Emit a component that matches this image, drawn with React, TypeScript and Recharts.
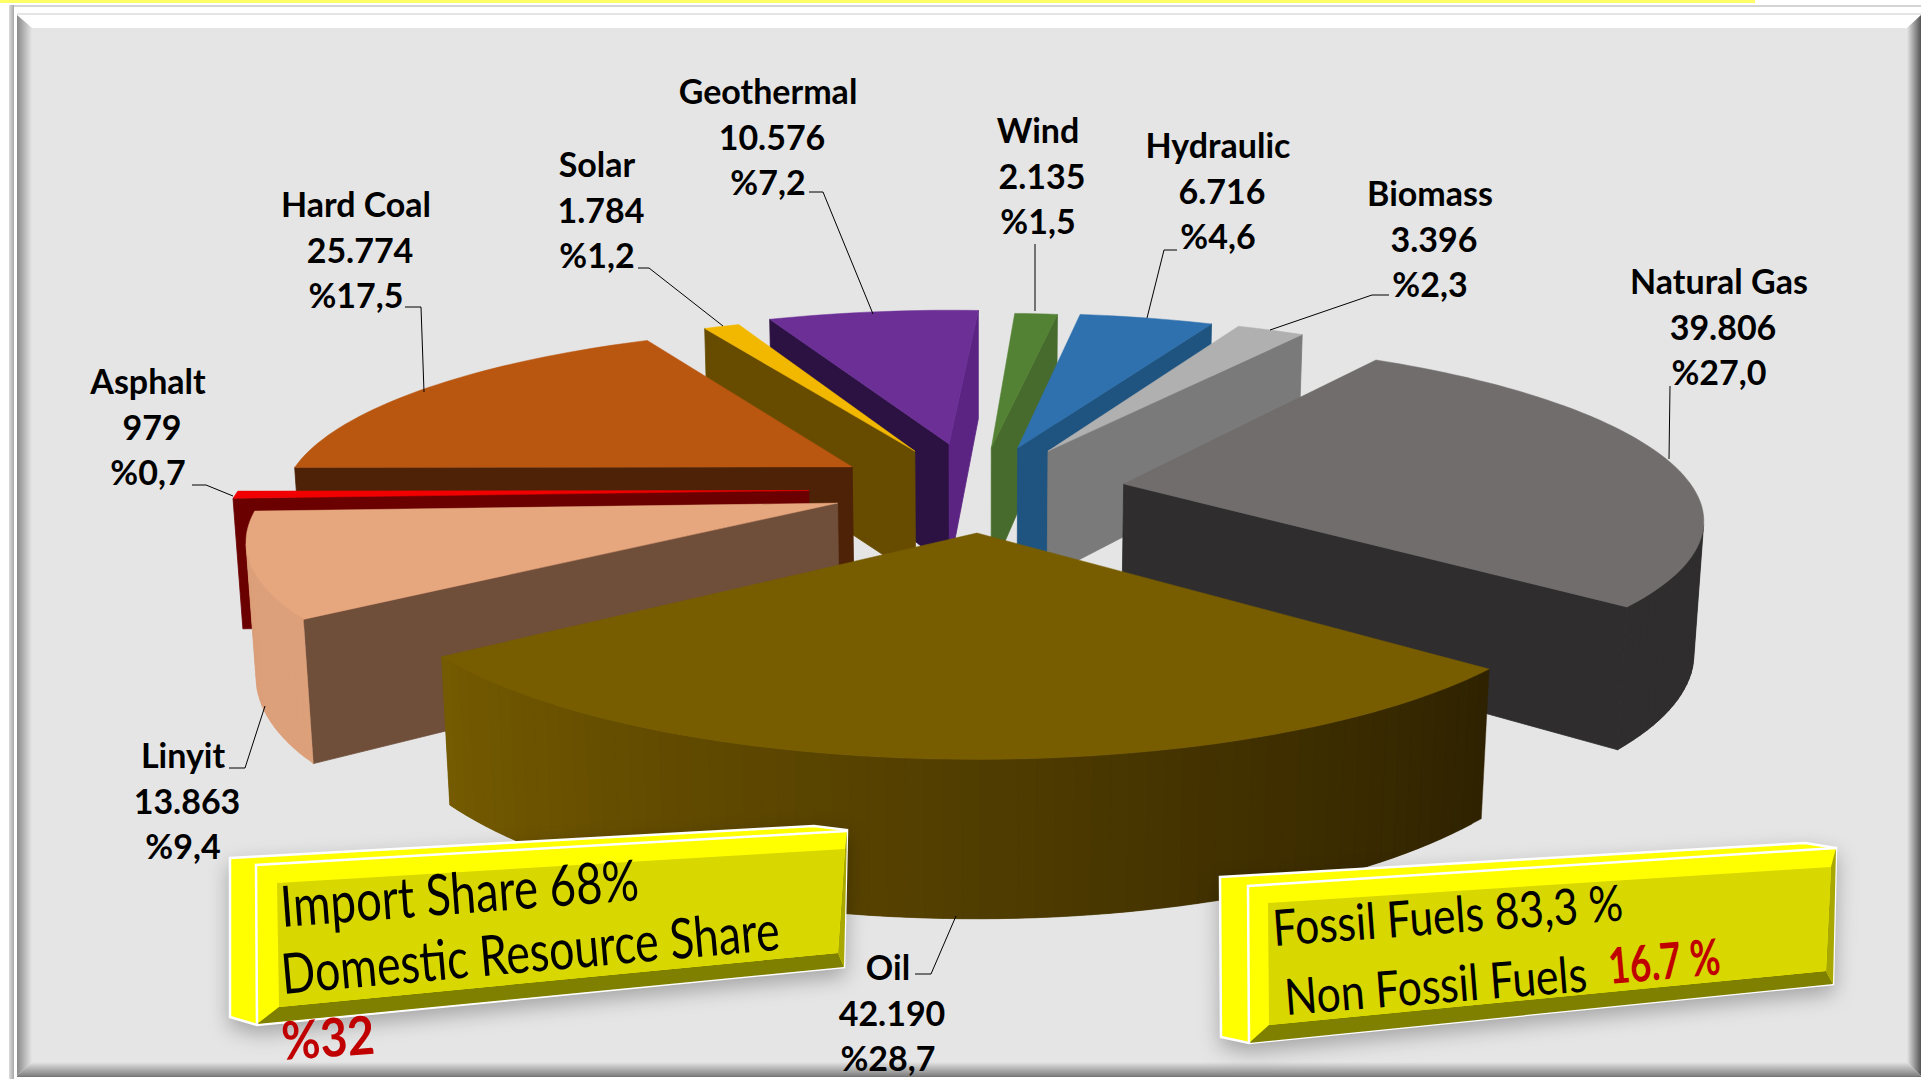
import React from 'react';
import { PieChart, Pie } from 'recharts';

const categories = ['Natural Gas', 'Oil', 'Linyit', 'Asphalt', 'Hard Coal', 'Solar', 'Geothermal', 'Wind', 'Hydraulic', 'Biomass'];
const values = [39806, 42190, 13863, 979, 25774, 1784, 10576, 2135, 6716, 3396];

// paint order, far slices first
const drawOrder = ['Geothermal', 'Wind', 'Hydraulic', 'Solar', 'Biomass', 'Hard Coal', 'Asphalt', 'Linyit', 'Natural Gas', 'Oil'];

// how far each slice is pulled out, [sideways, towards viewer]
const explode = [[147, -77], [-3, 83], [-143, -13], [-174, -55], [-133, -137], [-69, -194], [-33, -220], [12, -205], [40, -205], [72, -194]];

// top, start wall, end wall, arc at start angle, arc at end angle
const colors = [
    ['#706d6c', '#2f2d2e', '#2f2d2e', '#2f2d2e', '#2f2d2e'],
    ['#775d00', '#775d00', '#775d00', '#2f2200', '#745a00'],
    ['#e6a77e', '#6f4e3a', '#6f4e3a', '#dca07a', '#dca07a'],
    ['#f00000', '#6b0000', '#6b0000', '#6b0000', '#6b0000'],
    ['#b95610', '#4d2207', '#4d2207', '#4d2207', '#4d2207'],
    ['#f2b800', '#674c00', '#674c00', '#674c00', '#674c00'],
    ['#6b2f96', '#2c1243', '#5b2483', '#2c1243', '#2c1243'],
    ['#548235', '#476b2d', '#476b2d', '#476b2d', '#476b2d'],
    ['#2e71ae', '#1f5480', '#1f5480', '#1f5480', '#1f5480'],
    ['#b0b0b0', '#7a7a7a', '#7a7a7a', '#7a7a7a', '#7a7a7a'],
];

// label centre and leader line per slice
const labelSpots = [
    { x: 1719, y: 282, line: '1670,386 1669,459' },
    { x: 888, y: 968, line: '915,974 931,974 956,916' },
    { x: 183, y: 756, line: '229,768 245,768 265,706' },
    { x: 148, y: 382, line: '192,485 206,485 233,496' },
    { x: 356, y: 205, line: '405,307 421,307 424,392' },
    { x: 597, y: 165, line: '638,268 649,268 723,326' },
    { x: 768, y: 92, line: '809,192 823,192 873,314' },
    { x: 1038, y: 131, line: '1035,244 1035,311' },
    { x: 1218, y: 146, line: '1177,250 1164,250 1147,318' },
    { x: 1430, y: 194, line: '1389,295 1372,295 1270,330' },
];

const rows = categories.map((name, i) => ({ name, value: values[i] }));

const WIDTH = 1921;
const HEIGHT = 1079;
const SIN = 0.305;
const COS = 0.952;
const CAMERA = 3175;
const THICKNESS = 140;
const LABEL_FONT = 'Lato, "Open Sans", sans-serif';

const project = (x: number, y: number, z: number, cx: number, cy: number) => {
    const up = y * COS - z * SIN;
    const near = y * SIN + z * COS;
    const s = CAMERA / (CAMERA - near);
    return [cx + x * s, cy - up * s];
};

const toPoints = (pts: number[][]) => pts.map((p) => `${p[0].toFixed(1)},${p[1].toFixed(1)}`).join(' ');

const area = (pts: number[][]) => {
    let sum = 0;
    pts.forEach((p, i) => {
        const q = pts[(i + 1) % pts.length];
        sum += p[0] * q[1] - q[0] * p[1];
    });
    return sum;
};

const mix = (a: string, b: string, t: number) => {
    const parse = (h: string) => [1, 3, 5].map((k) => parseInt(h.slice(k, k + 2), 16));
    const ca = parse(a);
    const cb = parse(b);
    return `rgb(${ca.map((c, i) => Math.round(c + (cb[i] - c) * t)).join(',')})`;
};

const Slice3D = ({ cx, cy, outerRadius, startAngle, endAngle, index }: any) => {
    const [dx, dz] = explode[index];
    const [topColor, startWall, endWall, arcFrom, arcTo] = colors[index];
    const a0 = 90 - startAngle;
    const a1 = 90 - endAngle;

    const top = (deg: number, r: number) => {
        const t = (deg * Math.PI) / 180;
        return project(dx + r * Math.sin(t), 0, dz - r * Math.cos(t), cx, cy);
    };
    const bottom = (deg: number, r: number) => {
        const t = (deg * Math.PI) / 180;
        return project(dx + r * Math.sin(t), -THICKNESS, dz - r * Math.cos(t), cx, cy);
    };

    const steps = Math.max(2, Math.ceil((a1 - a0) / 1.5));
    const angles = Array.from({ length: steps + 1 }, (_, i) => a0 + ((a1 - a0) * i) / steps);

    const startPoly = [top(a0, 0), top(a0, outerRadius), bottom(a0, outerRadius), bottom(a0, 0)];
    const endPoly = [top(a1, 0), top(a1, outerRadius), bottom(a1, outerRadius), bottom(a1, 0)];
    const face = [top(a0, 0), ...angles.map((d) => top(d, outerRadius))];

    return (
        <g>
            {area(startPoly) < 0 && <polygon points={toPoints(startPoly)} fill={startWall} stroke={startWall} strokeWidth={0.8} />}
            {area(endPoly) > 0 && <polygon points={toPoints(endPoly)} fill={endWall} stroke={endWall} strokeWidth={0.8} />}
            {angles.slice(0, -1).map((d, i) => {
                // each quad runs on under the next one so no seams show
                const next = angles[Math.min(i + 2, steps)];
                const quad = [top(d, outerRadius), top(next, outerRadius), bottom(next, outerRadius), bottom(d, outerRadius)];
                if (area(quad) >= 0) return null;
                const c = mix(arcFrom, arcTo, i / (steps - 1));
                return <polygon key={i} points={toPoints(quad)} fill={c} stroke={c} strokeWidth={0.4} />;
            })}
            <polygon points={toPoints(face)} fill={topColor} stroke={topColor} strokeWidth={0.5} />
        </g>
    );
};

const renderLabel = ({ index, name, value, percent }: any) => {
    const spot = labelSpots[index];
    const amount = String(value).replace(/\B(?=(\d{3})+$)/g, '.');
    const share = `%${(percent * 100).toFixed(1).replace('.', ',')}`;
    const textStyle = { fontFamily: LABEL_FONT, fontWeight: 700, fontSize: 34, fill: '#000' };
    return (
        <g key={name}>
            <polyline points={spot.line} fill="none" stroke="#000" strokeWidth={1} />
            <text x={spot.x} y={spot.y + 12} textAnchor="middle" style={textStyle}>{name}</text>
            <text x={spot.x + 4} y={spot.y + 58} textAnchor="middle" style={textStyle}>{amount}</text>
            <text x={spot.x} y={spot.y + 103} textAnchor="middle" style={textStyle}>{share}</text>
        </g>
    );
};

const Frame = () => (
    <svg width={WIDTH} height={HEIGHT} style={{ position: 'absolute', left: 0, top: 0 }}>
        <defs>
            <linearGradient id="outerEdge" x1="0" x2="1" y1="0" y2="0">
                <stop offset="0" stopColor="#dcdcdc" />
                <stop offset="1" stopColor="#a8a8a8" />
            </linearGradient>
            <linearGradient id="leftEdge" x1="0" x2="1" y1="0" y2="0">
                <stop offset="0" stopColor="#8a8a8a" />
                <stop offset="1" stopColor="#e5e5e5" />
            </linearGradient>
            <linearGradient id="rightEdge" x1="0" x2="1" y1="0" y2="0">
                <stop offset="0" stopColor="#e5e5e5" />
                <stop offset="1" stopColor="#555" />
            </linearGradient>
            <linearGradient id="bottomEdge" x1="0" x2="0" y1="0" y2="1">
                <stop offset="0" stopColor="#e5e5e5" />
                <stop offset="1" stopColor="#808080" />
            </linearGradient>
        </defs>
        <rect x={0} y={0} width={1755} height={3} fill="#ffff66" />
        <rect x={9} y={5} width={1912} height={2} fill="#d4d4d4" />
        <rect x={9} y={5} width={5} height={1074} fill="url(#outerEdge)" />
        <rect x={17} y={13} width={1904} height={2} fill="#bdbdbd" />
        <rect x={17} y={13} width={1904} height={1064} fill="#e5e5e5" />
        <polygon points="17,15 1921,15 1907,28 32,28" fill="#fff" />
        <polygon points="17,15 32,28 32,1062 17,1076" fill="url(#leftEdge)" />
        <polygon points="1921,15 1907,28 1907,1062 1921,1076" fill="url(#rightEdge)" />
        <polygon points="17,1076 32,1062 1907,1062 1921,1076" fill="url(#bottomEdge)" />
        <rect x={17} y={1076} width={1904} height={1} fill="#777" />
    </svg>
);

const Bevel = ({ outer, front, inner }: { outer: number[][]; front: number[][]; inner: number[][] }) => (
    <g style={{ filter: 'drop-shadow(0px 8px 10px rgba(0,0,0,0.28))' }}>
        <polygon points={toPoints(outer)} fill="#ffff00" stroke="#fff" strokeWidth={2.5} />
        <polygon points={toPoints([front[0], front[1], inner[1], inner[0]])} fill="#ffff00" />
        <polygon points={toPoints([front[0], inner[0], inner[3], front[3]])} fill="#ffff00" />
        <polygon points={toPoints([front[3], inner[3], inner[2], front[2]])} fill="#7f7f00" />
        <polygon points={toPoints([front[1], front[2], inner[2], inner[1]])} fill="#a8a800" />
        <polygon points={toPoints(inner)} fill="#d8d800" />
        <polyline points={toPoints([front[3], front[0], front[1]])} fill="none" stroke="#fff" strokeWidth={2.5} />
    </g>
);

const Slanted = ({ x, y, angle, width, size, color = '#000', bold = false, children }: any) => (
    <text
        transform={`translate(${x} ${y}) rotate(${angle})`}
        textLength={width}
        lengthAdjust="spacingAndGlyphs"
        style={{ fontFamily: LABEL_FONT, fontSize: size, fontWeight: bold ? 700 : 400, fill: color }}
    >
        {children}
    </text>
);

const Notes = () => (
    <svg width={WIDTH} height={HEIGHT} style={{ position: 'absolute', left: 0, top: 0 }}>
        <Bevel
            outer={[[230, 858], [814, 826], [847, 830], [844, 967], [257, 1025], [230, 1017]]}
            front={[[256, 865], [847, 831], [844, 967], [257, 1024]]}
            inner={[[277, 883], [845, 849], [838, 953], [279, 1007]]}
        />
        <Slanted x={282} y={927} angle={-4.3} width={359} size={57}>Import Share 68%</Slanted>
        <Slanted x={283} y={994} angle={-5.1} width={500} size={56}>Domestic Resource Share</Slanted>
        <Slanted x={283} y={1060} angle={-4} width={93} size={53} color="#c00000" bold>%32</Slanted>
        <Bevel
            outer={[[1220, 877], [1805, 843], [1836, 848], [1833, 984], [1249, 1043], [1221, 1037]]}
            front={[[1248, 886], [1836, 848], [1833, 984], [1249, 1043]]}
            inner={[[1268, 903], [1831, 867], [1826, 971], [1269, 1025]]}
        />
        <Slanted x={1274} y={946} angle={-4.2} width={351} size={50}>Fossil Fuels 83,3 %</Slanted>
        <Slanted x={1286} y={1015} angle={-4.5} width={303} size={50}>Non Fossil Fuels</Slanted>
        <Slanted x={1610} y={984} angle={-5} width={112} size={50} color="#c00000" bold>16.7 %</Slanted>
    </svg>
);

const pieProps = {
    data: rows,
    dataKey: 'value',
    nameKey: 'name',
    cx: 980,
    cy: 507,
    outerRadius: 580,
    startAngle: 57,
    endAngle: -303,
    stroke: 'none',
    legendType: 'none' as const,
    isAnimationActive: false,
    labelLine: false,
};

export default function App() {
    return (
        <div style={{ position: 'relative', width: WIDTH, height: HEIGHT, overflow: 'hidden', background: '#fff' }}>
            <style>{'html,body{margin:0;padding:0;overflow:hidden}'}</style>
            <Frame />
            <div style={{ position: 'absolute', left: 0, top: 0 }}>
                <PieChart width={WIDTH} height={HEIGHT} margin={{ top: 0, right: 0, bottom: 0, left: 0 }}>
                    {drawOrder.map((name) => {
                        const draw = (props: any) => (categories[props.index] === name ? <Slice3D {...props} /> : <g />);
                        return <Pie key={name} {...pieProps} shape={draw} activeShape={draw} inactiveShape={draw} />;
                    })}
                    <Pie key="labels" {...pieProps} shape={() => <g />} activeShape={() => <g />} inactiveShape={() => <g />} label={renderLabel} />
                </PieChart>
            </div>
            <Notes />
        </div>
    );
}
